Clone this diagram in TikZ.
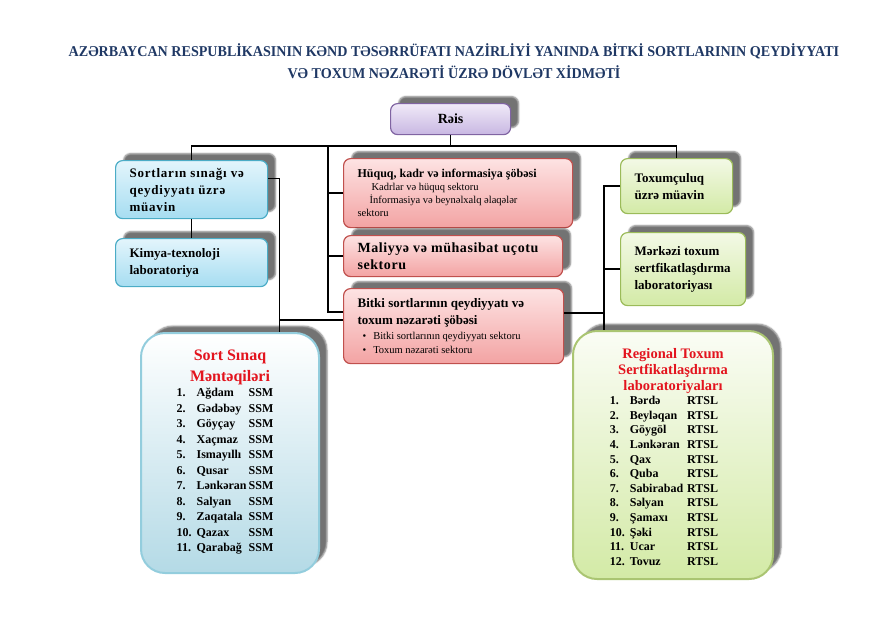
\documentclass[tikz,border=0pt]{standalone}
\usepackage{fontspec}
\setmainfont{Liberation Serif}
\newfontfamily\headfont[FakeStretch=0.94]{Liberation Serif}
\usepackage{tikz}
\usetikzlibrary{shadows.blur,calc}
\definecolor{servnavy}{HTML}{1F3864}
\definecolor{servred}{HTML}{E3141E}
\definecolor{reisedge}{HTML}{8064A2}
\definecolor{reistop}{HTML}{F0EAF8}
\definecolor{reisbot}{HTML}{C8B7E2}
\definecolor{aquaedge}{HTML}{4BACC6}
\definecolor{aquatop}{HTML}{E3F5FC}
\definecolor{aquabot}{HTML}{A6DDF1}
\definecolor{roseedge}{HTML}{C0504D}
\definecolor{rosetop}{HTML}{FDE3E3}
\definecolor{rosebot}{HTML}{F3A3A3}
\definecolor{limeedge}{HTML}{9BBB59}
\definecolor{limetop}{HTML}{F3F9E6}
\definecolor{limebot}{HTML}{D3EAA6}
\definecolor{skyedge}{HTML}{93CDDD}
\definecolor{skybot}{HTML}{B4DAE6}

\begin{document}
\begin{tikzpicture}[x=1pt,y=-1pt]
    \tikzstyle{plate}=[anchor=north west,rounded corners=7pt,line width=1.2pt,inner xsep=14pt,inner ysep=3pt,align=flush left,font=\bfseries\fontsize{13}{17}\selectfont,blur shadow={shadow xshift=8pt,shadow yshift=7pt,shadow opacity=55,shadow blur radius=1.5pt}]
    \tikzstyle{aqua}=[plate,draw=aquaedge,top color=aquatop,bottom color=aquabot]
    \tikzstyle{rose}=[plate,draw=roseedge,top color=rosetop,bottom color=rosebot]
    \tikzstyle{lime}=[plate,draw=limeedge,top color=limetop,bottom color=limebot]
    \tikzstyle{board}=[plate,rounded corners=24pt,align=flush center,line width=2pt,inner xsep=4pt]
    \tikzstyle{link}=[line width=1.4pt]
    \useasboundingbox (0,0) rectangle (896,633);
    \node[font=\headfont\bfseries\fontsize{15}{22}\selectfont,text=servnavy,align=center] (title) at (454,61) {AZƏRBAYCAN RESPUBLİKASININ KƏND TƏSƏRRÜFATI NAZİRLİYİ YANINDA BİTKİ SORTLARININ QEYDİYYATI\\VƏ TOXUM NƏZARƏTİ ÜZRƏ DÖVLƏT XİDMƏTİ};
    \node[plate,draw=reisedge,top color=reistop,bottom color=reisbot,align=center,minimum width=120pt,minimum height=31pt,font=\bfseries\fontsize{14}{17}\selectfont] (reis) at (390,103) {Rəis};
    \node[aqua,text width=124pt,minimum height=58pt] (sinaq) at (115,160) {\addfontfeature{LetterSpace=6}Sortların sınağı və\\qeydiyyatı üzrə\\müavin};
    \node[aqua,text width=124pt,minimum height=48pt] (kimya) at (115,238) {Kimya-texnoloji\\laboratoriya};
    \node[rose,text width=201pt,minimum height=69pt] (huquq) at (343,158) {\fontsize{12}{16}\selectfont Hüquq, kadr və informasiya şöbəsi\\
        \mdseries\fontsize{10.5}{13}\selectfont\hspace*{14pt}Kadrlar və hüquq sektoru\\
        \hspace*{12pt}İnformasiya və beynəlxalq əlaqələr\\sektoru\par};
    \node[rose,text width=191pt,minimum height=41pt,font=\bfseries\fontsize{14}{17}\selectfont] (maliyye) at (343,235) {\addfontfeature{LetterSpace=4}Maliyyə və mühasibat uçotu\\sektoru};
    \node[rose,text width=192pt,minimum height=75pt] (bitki) at (343,288) {Bitki sortlarının qeydiyyatı və\\toxum nəzarəti şöbəsi\\
        \mdseries\fontsize{10.5}{14.5}\selectfont\hspace*{5pt}\textbullet\hspace{7pt}Bitki sortlarının qeydiyyatı sektoru\\
        \hspace*{5pt}\textbullet\hspace{7pt}Toxum nəzarəti sektoru\par};
    \node[lime,text width=84pt,minimum height=55pt] (toxum) at (620,158) {Toxumçuluq\\üzrə müavin};
    \node[lime,text width=97pt,minimum height=73pt] (merkezi) at (620,232) {Mərkəzi toxum\\sertfikatlaşdırma\\laboratoriyası};
    \node[board,draw=skyedge,top color=white,bottom color=skybot,text width=170pt,minimum height=240pt] (ssm) at (140,332) {%
        {\color{servred}\fontsize{16}{21}\selectfont Sort Sınaq\\Məntəqiləri\par}
        \fontsize{12}{15.5}\selectfont
        \hspace*{-10pt}\begin{tabular}{@{}l@{\hspace{5pt}}l@{\hspace{2pt}}l@{}}
            1. & Ağdam & SSM\\
            2. & Gədəbəy & SSM\\
            3. & Göyçay & SSM\\
            4. & Xaçmaz & SSM\\
            5. & Ismayıllı & SSM\\
            6. & Qusar & SSM\\
            7. & Lənkəran & SSM\\
            8. & Salyan & SSM\\
            9. & Zaqatala & SSM\\
            10. & Qazax & SSM\\
            11. & Qarabağ & SSM
        \end{tabular}};
    \node[board,draw=limeedge!85,top color=limetop!40!white,bottom color=limebot,text width=192pt,minimum height=248pt] (rtsl) at (572,330) {%
        {\color{servred}\fontsize{14.5}{16}\selectfont\rule{0pt}{18pt}Regional Toxum\\Sertfikatlaşdırma\\laboratoriyaları\par}
        \fontsize{12}{14.6}\selectfont
        \hspace*{-18pt}\begin{tabular}{@{}l@{\hspace{5pt}}l@{\hspace{4pt}}l@{}}
            1. & Bərdə & RTSL\\
            2. & Beyləqan & RTSL\\
            3. & Göygöl & RTSL\\
            4. & Lənkəran & RTSL\\
            5. & Qax & RTSL\\
            6. & Quba & RTSL\\
            7. & Sabirabad & RTSL\\
            8. & Səlyan & RTSL\\
            9. & Şamaxı & RTSL\\
            10. & Şəki & RTSL\\
            11. & Ucar & RTSL\\
            12. & Tovuz & RTSL
        \end{tabular}};
    \draw[link] (sinaq.north) -- ++(0,-14) coordinate (busl) -| (toxum.north);
    \draw[link] (reis.south) -- (reis.south |- busl);
    \coordinate (trunk) at ($(busl -| huquq.west)+(-15,0)$);
    \coordinate (bk) at ([yshift=14pt]bitki.west);
    \draw[link] (trunk) |- (bk);
    \draw[link] (huquq.west) -- (huquq.west -| trunk);
    \draw[link] (maliyye.west) -- (maliyye.west -| trunk);
    \draw[link] (sinaq.south) -- (kimya.north);
    \draw[link] ([yshift=11pt]sinaq.east) -- ++(11,0) coordinate (lk) -- (lk |- ssm.north);
    \coordinate (lb) at ([yshift=6pt]bitki.west);
    \draw[link] (lb) -- (lb -| lk);
    \draw[link] (toxum.west) -- ++(-16,0) coordinate (rk) -- (rk |- rtsl.north);
    \draw[link] (merkezi.west) -- (merkezi.west -| rk);
    \coordinate (bke) at ([yshift=13pt]bitki.east);
    \draw[link] (bke) -- (bke -| rk);
\end{tikzpicture}
\end{document}
